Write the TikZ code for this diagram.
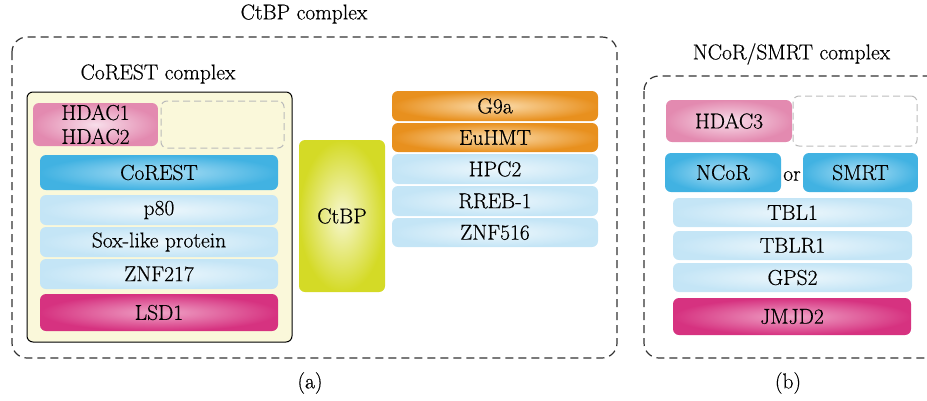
\documentclass[tikz,border=0pt]{standalone}
\usepackage{fontspec}
\setmainfont{Latin Modern Roman}[FakeBold=0.5]
\definecolor{pinkE}{HTML}{E38AB0}
\definecolor{pinkC}{HTML}{F8DEEA}
\definecolor{blueE}{HTML}{41B2E2}
\definecolor{blueC}{HTML}{ADDFF5}
\definecolor{lblueE}{HTML}{C4E5F6}
\definecolor{lblueC}{HTML}{EDF7FC}
\definecolor{magE}{HTML}{D63280}
\definecolor{magC}{HTML}{EFA3C6}
\definecolor{oraE}{HTML}{E8901E}
\definecolor{oraC}{HTML}{FBDDAE}
\definecolor{limeE}{HTML}{D4DA26}
\definecolor{limeC}{HTML}{F7F7D0}
\definecolor{cream}{HTML}{FAF8DA}
\definecolor{dashgray}{HTML}{BBBBBB}
\definecolor{outline}{HTML}{333333}
\tikzset{
  x=1pt, y=-1pt,
  txt/.style={font=\fontsize{21.5}{24}\selectfont, text=black, align=center},
  box/.style={txt, inner sep=0pt, rounded corners=6pt},
  pinkbox/.style={box, inner color=pinkC, outer color=pinkE},
  bluebox/.style={box, inner color=blueC, outer color=blueE},
  lbluebox/.style={box, inner color=lblueC, outer color=lblueE},
  magbox/.style={box, inner color=magC, outer color=magE},
  orabox/.style={box, inner color=oraC, outer color=oraE},
  limebox/.style={box, inner color=limeC, outer color=limeE},
  ghost/.style={box, draw=dashgray, line width=1pt, dash pattern=on 7pt off 4pt},
  outerbox/.style={draw=outline, line width=1.2pt, dash pattern=on 8pt off 5pt, rounded corners=15pt},
}
\begin{document}
\begin{tikzpicture}
\useasboundingbox (0,0) rectangle (927,400);
\clip (0,0) rectangle (927,400);
% ---------- (a) ----------
\node[txt] (titleA) at (304,14) {CtBP complex};
\draw[outerbox] (12,37) rectangle (617,358);
\node[txt] (titleC) at (158,74) {CoREST complex};
\node[box, draw=black, line width=1pt, fill=cream, minimum width=265pt, minimum height=250pt] (corestbox) at (159.5,217) {};
\node[pinkbox, minimum width=125pt, minimum height=43pt] (hdac12) at (95.5,124.5) {HDAC1\\HDAC2};
\node[ghost, minimum width=123pt, minimum height=47pt] (ghostA) at (222.5,124.5) {};
\node[bluebox, minimum width=238pt, minimum height=35pt] (corest) at (159,172.5) {CoREST};
\node[lbluebox, minimum width=238pt, minimum height=30pt] (p80) at (159,210) {p80};
\node[lbluebox, minimum width=238pt, minimum height=30pt] (sox) at (159,242) {Sox-like protein};
\node[lbluebox, minimum width=238pt, minimum height=30pt] (znf217) at (159,274) {ZNF217};
\node[magbox, minimum width=238pt, minimum height=37pt] (lsd1) at (159,312.5) {LSD1};
\node[limebox, minimum width=86pt, minimum height=152pt] (ctbp) at (342,216) {CtBP};
\node[orabox, minimum width=206pt, minimum height=30pt] (g9a) at (495,106) {G9a};
\node[orabox, minimum width=206pt, minimum height=29pt] (euhmt) at (495,137.5) {EuHMT};
\node[lbluebox, minimum width=206pt, minimum height=30pt] (hpc2) at (495,169) {HPC2};
\node[lbluebox, minimum width=206pt, minimum height=30pt] (rreb) at (495,201) {RREB-1};
\node[lbluebox, minimum width=206pt, minimum height=29pt] (znf516) at (495,232.5) {ZNF516};
\node[txt] (labA) at (310,383) {(a)};
% ---------- (b) ----------
\node[txt] (titleB) at (791.5,54) {NCoR/SMRT complex};
\draw[outerbox] (644,76) rectangle (945,358);
\node[pinkbox, minimum width=126pt, minimum height=42pt] (hdac3) at (729,121) {HDAC3};
\node[ghost, minimum width=124pt, minimum height=50pt] (ghostB) at (855,121) {};
\node[bluebox, minimum width=116pt, minimum height=39pt] (ncor) at (723,172.5) {NCoR};
\node[txt] (or) at (792,176) {or};
\node[bluebox, minimum width=115pt, minimum height=39pt] (smrt) at (860.5,172.5) {SMRT};
\node[lbluebox, minimum width=239pt, minimum height=29pt] (tbl1) at (792.5,212.5) {TBL1};
\node[lbluebox, minimum width=239pt, minimum height=29pt] (tblr1) at (792.5,245.5) {TBLR1};
\node[lbluebox, minimum width=239pt, minimum height=29pt] (gps2) at (792.5,277.5) {GPS2};
\node[magbox, minimum width=238pt, minimum height=37pt] (jmjd2) at (792,316.5) {JMJD2};
\node[txt] (labB) at (788,383) {(b)};
\end{tikzpicture}
\end{document}
